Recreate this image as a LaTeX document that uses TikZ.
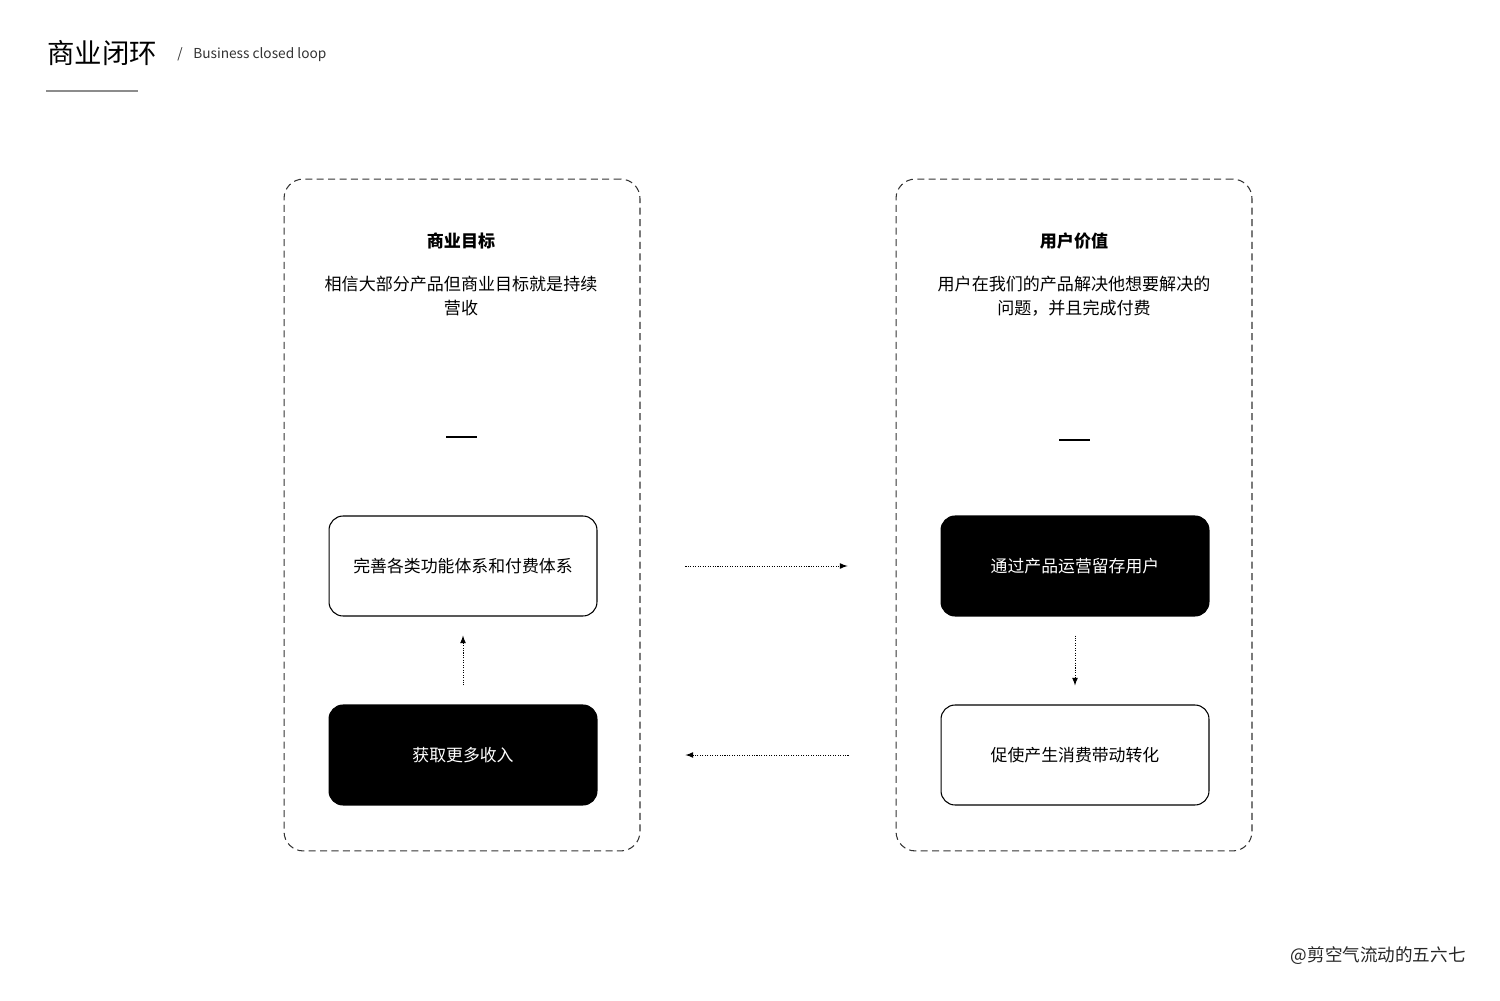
\documentclass[tikz,border=0pt]{standalone}
\usepackage{fontspec}
\setmainfont{Noto Sans CJK SC}
\usetikzlibrary{arrows}

\tikzset{
	panel/.style={draw=black!80, dash pattern=on 4pt off 2.5pt, line width=0.6pt,
		rounded corners=11pt, minimum width=7.12cm, minimum height=13.44cm},
	whitebox/.style={draw, fill=white, line width=0.6pt, rounded corners=8pt,
		minimum width=5.36cm, minimum height=2cm, font=\fontsize{9.6}{12}\selectfont},
	blackbox/.style={whitebox, fill=black, text=white},
	flow/.style={->, dash pattern=on 0.6pt off 0.8pt, line width=0.5pt},
	bodytext/.style={align=center, font=\fontsize{9.7}{13.7}\selectfont},
}

\begin{document}
\begin{tikzpicture}[>=latex, x=0.02cm, y=-0.02cm]
	\useasboundingbox (0,0) rectangle (1500,1000);

	% title and subtitle
	\node[anchor=west, inner sep=0pt, font=\fontsize{15.6}{18}\selectfont] (title) at (47,53) {商业闭环};
	\node[anchor=west, inner sep=0pt, text=black!80, font=\fontsize{7.8}{9}\selectfont] (subtitle) at (177,55) {/\hspace{6pt}Business closed loop};
	\coordinate (U1) at (46,91);
	\coordinate (U2) at (138,91);
	\draw[black!45, line width=0.85pt] (U1)--(U2);

	% the two dashed panels
	\node[panel] (panelL) at (462,515) {};
	\node[panel] (panelR) at (1074,515) {};

	% business goal side
	\node[bodytext, font=\fontsize{9.7}{13.7}\selectfont\bfseries] (goal) at (461,241) {商业目标};
	\node[bodytext] (goaltext) at (461,296) {相信大部分产品但商业目标就是持续\\营收};
	\coordinate (L1) at (446,437);
	\coordinate (L2) at (477,437);
	\draw[line width=1.7pt] (L1)--(L2);

	% user value side
	\node[bodytext, font=\fontsize{9.7}{13.7}\selectfont\bfseries] (value) at (1074,241) {用户价值};
	\node[bodytext] (valuetext) at (1074,296) {用户在我们的产品解决他想要解决的\\问题，并且完成付费};
	\coordinate (R1) at (1059,440);
	\coordinate (R2) at (1090,440);
	\draw[line width=1.7pt] (R1)--(R2);

	% the loop
	\node[whitebox] (improve) at (463,566) {完善各类功能体系和付费体系};
	\node[blackbox] (income) at (463,755) {获取更多收入};
	\node[blackbox] (retain) at (1075,566) {通过产品运营留存用户};
	\node[whitebox] (convert) at (1075,755) {促使产生消费带动转化};

	\draw[flow, shorten <=1.76cm, shorten >=1.86cm] (improve.east) -- (retain.west);
	\draw[flow, shorten <=0.38cm, shorten >=0.38cm] (retain.south) -- (convert.north);
	\draw[flow, shorten <=1.84cm, shorten >=1.76cm] (convert.west) -- (income.east);
	\draw[flow, shorten <=0.38cm, shorten >=0.38cm] (income.north) -- (improve.south);

	% signature
	\node[anchor=east, inner sep=0pt, text=black!85, font=\fontsize{10}{12}\selectfont] (sign) at (1466,956) {@剪空气流动的五六七};
\end{tikzpicture}
\end{document}
